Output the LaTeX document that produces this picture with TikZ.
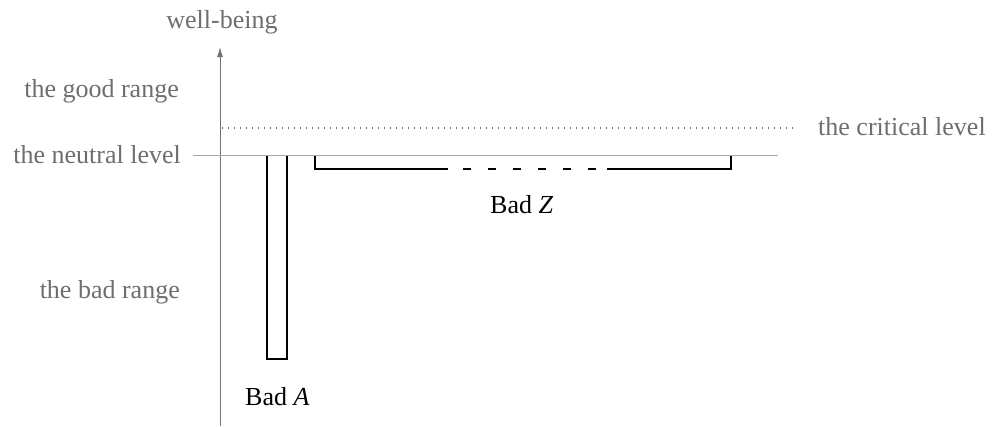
\documentclass[tikz,border=0pt]{standalone}
\usepackage{fontspec}
\setmainfont{Liberation Serif}
\usetikzlibrary{arrows.meta}
\begin{document}
\begin{tikzpicture}[x=1pt,y=-1pt,
  lbl/.style={text=black!57, font=\fontsize{26}{30}\selectfont, inner sep=0pt},
  bad/.style={text=black, font=\fontsize{26}{30}\selectfont, inner sep=0pt},
  axisline/.style={draw=black!55, line width=1pt},
  levelline/.style={draw=black!35, line width=1pt},
  critline/.style={draw=black!55, line width=1.2pt, dash pattern=on 1.2pt off 4.8pt},
  outline/.style={draw=black, line width=1.4pt}]
\useasboundingbox (0,0) rectangle (992,426);

% axis
\coordinate (axb) at (220,426);
\coordinate (axt) at (220,47);
\draw[axisline, -{Latex[length=10pt,width=6pt]}] (axb) -- (axt);
\node[lbl, anchor=base] (wb) at (222,28) {well-being};

% level lines
\coordinate (cl0) at (222,128);
\coordinate (cl1) at (797,128);
\draw[critline] (cl0) -- (cl1);

% range and level labels
\node[lbl, anchor=base east] (good) at (179,97) {the good range};
\node[lbl, anchor=base east] (neutral) at (181,163) {the neutral level};
\node[lbl, anchor=base east] (badr) at (180,298) {the bad range};
\node[lbl, anchor=base west] (crit) at (818,135) {the critical level};

% Bad A: one deep, short life (open at the neutral level)
\coordinate (a0) at (267,155);
\coordinate (a1) at (267,359);
\coordinate (a2) at (287,359);
\coordinate (a3) at (287,155);
\draw[outline] (a0) -- (a1) -- (a2) -- (a3);
\node[bad, anchor=base west] (badA) at (245,405) {Bad \textit{A}};

% Bad Z: many shallow lives
\coordinate (z0) at (315,155);
\coordinate (z1) at (315,169);
\coordinate (z2) at (448,169);
\coordinate (z3) at (463,169);
\coordinate (z4) at (597,169);
\coordinate (z5) at (607,169);
\coordinate (z6) at (731,169);
\coordinate (z7) at (731,155);
\draw[outline] (z0) -- (z1) -- (z2);
\draw[outline, dash pattern=on 8pt off 17pt] (z3) -- (z4);
\draw[outline] (z5) -- (z6) -- (z7);
\node[bad, anchor=base west] (badZ) at (490,213) {Bad \textit{Z}};

% neutral level on top
\coordinate (nl0) at (193,155);
\coordinate (nl1) at (778,155);
\draw[levelline] (nl0) -- (nl1);
\end{tikzpicture}
\end{document}
